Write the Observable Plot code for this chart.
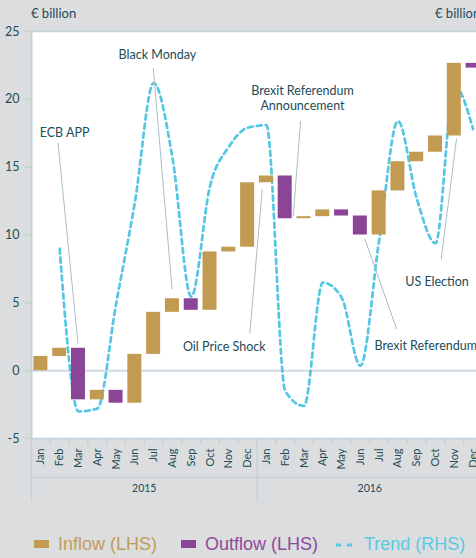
<!DOCTYPE html>
<html><head><meta charset="utf-8">
<script src="https://cdn.jsdelivr.net/npm/d3@7"></script>
<script src="https://cdn.jsdelivr.net/npm/@observablehq/plot@0.6"></script>
<style>
html,body{margin:0;padding:0;background:#dcdddf;overflow:hidden;width:476px;height:558px;}
#wrap{position:relative;width:476px;height:558px;font-family:Lato,sans-serif;overflow:hidden;}
.unit{position:absolute;top:5px;font-size:13px;color:#1d4c58;white-space:nowrap;}
#chart{position:absolute;left:0;top:24px;}
.lg{position:absolute;top:533px;font-family:"Liberation Sans",Arial,sans-serif;font-size:18px;white-space:nowrap;line-height:22px;}
.sw{position:absolute;width:15px;height:8px;top:540px;}
</style></head>
<body><div id="wrap">
<div class="unit" style="left:31px">€ billion</div>
<div class="unit" style="left:435px">€ billion</div>
<div id="chart"></div>
<div class="sw" style="left:34px;background:#c29a52"></div>
<div class="lg" style="left:58px;color:#c49c58">Inflow (LHS)</div>
<div class="sw" style="left:181px;background:#8b4596"></div>
<div class="lg" style="left:205px;color:#8e4a9a">Outflow (LHS)</div>
<svg class="sw" style="left:336px;width:17px;height:4px;top:543px" width="17" height="4"><line x1="0" y1="2" x2="17" y2="2" stroke="#5cc8e4" stroke-width="3" stroke-dasharray="5,6"/></svg>
<div class="lg" style="left:364px;color:#5cc8e4">Trend (RHS)</div>
</div>
<script>
const monthNames = ["Jan","Feb","Mar","Apr","May","Jun","Jul","Aug","Sep","Oct","Nov","Dec"];
const years = ["2015","2016"];
// monthly net flows (€ billion, LHS) – waterfall steps
const flows2015 = [1.05, 0.6, -3.8, 0.7, -0.95, 3.6, 3.1, 1.0, -0.85, 4.3, 0.35, 4.75];
const flows2016 = [0.5, -3.15, 0.15, 0.5, -0.45, -1.4, 3.25, 2.15, 0.7, 1.2, 5.35, -0.35];
// trend (RHS), read at chart positions
const trend2015 = [null, 9.0, -3.0, -2.8, 4.9, 12.4, 21.2, 15.7, 5.45, 13.6, 16.5, 17.9];
const trend2016 = [18.1, -1.5, -2.6, 6.5, 5.4, 0.35, 9.6, 18.4, 12.7, 9.4, 21.0, 17.8];
const yTicks = [-5, 0, 5, 10, 15, 20, 25];
// annotations
const annLabels = ["ECB APP", "Black Monday", "Brexit Referendum\nAnnouncement", "Oil Price Shock", "Brexit Referendum", "US Election"];
const annTextX = [1.26, 6.2, 13.92, 9.76, 17.75, 21.08];
const annTextY = [17.6, 23.3, 20.1, 1.76, 1.84, 6.6];
const annAnchor = ["middle", "middle", "middle", "middle", "start", "middle"];
const annLineX1 = [0.91, 5.98, 13.82, 11.12, 17.24, 21.3];
const annLineY1 = [16.8, 22.3, 18.4, 2.74, 9.7, 8.2];
const annLineX2 = [1.975, 6.98, 13.43, 11.78, 18.93, 22.12];
const annLineY2 = [2.0, 6.0, 11.4, 13.4, 3.07, 17.1];

const flows = flows2015.concat(flows2016);
const ends = d3.cumsum(flows);
const bars = flows.map((v, i) => ({i, start: i ? ends[i - 1] : 0, end: ends[i], type: v >= 0 ? "Inflow (LHS)" : "Outflow (LHS)"}));
const trend = trend2015.concat(trend2016).map((v, i) => ({i, v})).filter(d => d.v != null);
const monthLabels = years.flatMap(() => monthNames);
const ann = annLabels.map((label, k) => ({label, tx: annTextX[k], ty: annTextY[k], anchor: annAnchor[k],
  x1: annLineX1[k], y1: annLineY1[k], x2: annLineX2[k], y2: annLineY2[k]}));
const bounds = d3.range(0.5, 23, 1);

const ink = "#1d4c58", axisCol = "#c3d3d9", half = 0.3725;

const chart = Plot.plot({
  width: 476, height: 476,
  marginTop: 7, marginBottom: 62, marginLeft: 31, marginRight: 0,
  style: {background: "transparent", fontFamily: "Lato, sans-serif", overflow: "visible"},
  x: {type: "linear", domain: [-0.5, 23.5], range: [31, 482], axis: null},
  y: {domain: [-5, 25], axis: null},
  color: {domain: ["Inflow (LHS)", "Outflow (LHS)"], range: ["#c29a52", "#8b4596"]},
  marks: [
    Plot.frame({fill: "white", stroke: null}),
    Plot.ruleY([0], {stroke: "#cfdbe0", strokeWidth: 2}),
    Plot.ruleY([25], {stroke: axisCol, strokeWidth: 1.5}),
    Plot.ruleY([-5], {stroke: axisCol, strokeWidth: 1.5}),
    Plot.ruleY([-5], {stroke: axisCol, strokeWidth: 1.5, dy: 39}),
    Plot.ruleX([-0.5], {y1: -5, y2: 25, stroke: axisCol, strokeWidth: 2}),
    Plot.ruleX([-0.5, 11.5], {y1: -5, y2: -9.7, stroke: axisCol, strokeWidth: 1.5}),
    Plot.axisY({ticks: yTicks, tickSize: 7, tickPadding: 5, tickFormat: d => String(d), stroke: axisCol, strokeWidth: 1.5, fill: ink, fontSize: 12.5, label: null}),
    Plot.axisX({ticks: bounds, tickSize: 7, tickFormat: () => "", stroke: axisCol, strokeWidth: 1.5, label: null}),
    Plot.text(monthLabels, {x: (d, i) => i, text: d => d, frameAnchor: "bottom", dy: 10, rotate: -90, textAnchor: "end", lineAnchor: "middle", fontSize: 11, fill: ink}),
    Plot.text(years, {x: (d, i) => i * 12 + 5.5, text: d => d, frameAnchor: "bottom", dy: 53, fontSize: 10.5, fill: ink}),
    Plot.line(trend, {x: "i", y: "v", curve: "monotone-x", stroke: "#55c6e3", strokeWidth: 2.7, strokeDasharray: "5,4"}),
    Plot.rect(bars, {x1: d => d.i - half, x2: d => d.i + half, y1: "start", y2: "end", fill: "type"}),
    Plot.link(ann, {x1: "x1", y1: "y1", x2: "x2", y2: "y2", stroke: "#a9bdc5", strokeWidth: 1}),
    Plot.text(ann.filter(d => d.anchor === "middle"), {x: "tx", y: "ty", text: "label", textAnchor: "middle", lineAnchor: "middle", lineHeight: 1.17, fontSize: 12.5, fill: ink}),
    Plot.text(ann.filter(d => d.anchor === "start"), {x: "tx", y: "ty", text: "label", textAnchor: "start", lineAnchor: "middle", fontSize: 12.5, fill: ink})
  ]
});
document.getElementById("chart").appendChild(chart);
</script>
</body></html>
